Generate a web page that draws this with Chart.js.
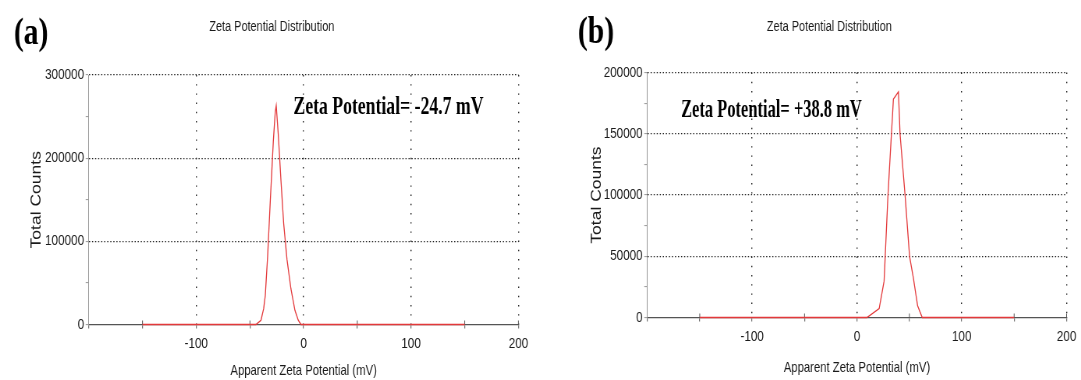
<!DOCTYPE html>
<html>
<head>
<meta charset="utf-8">
<script src="https://cdn.jsdelivr.net/npm/chart.js@4.4.0/dist/chart.umd.min.js"></script>
<style>
  html, body { margin: 0; padding: 0; background: #fff; }
  #wrap { position: relative; width: 1081px; height: 380px; overflow: hidden; background: #fff; }
  .panel { position: absolute; top: 0; height: 380px; transform-origin: 0 0; }
  #panelA { left: 0; width: 692px; transform: scaleX(0.7803); }
  #panelB { left: 540px; width: 694px; transform: scaleX(0.7795); }
</style>
</head>
<body>
<div id="wrap">
  <div class="panel" id="panelA"><canvas id="chartA"></canvas></div>
  <div class="panel" id="panelB"><canvas id="chartB"></canvas></div>
</div>
<script>
// === DATA ===
// (a) sample with negative zeta potential
const potentialA = [-150, -44.4, -39.7, -37.2, -35.7, -33.5, -31.0, -28.2, -26.4, -25.5, -23.6, -21.1, -18.6, -15.5, -11.8, -8.1, -5.0, -2.5, 150];
const countsA    = [0, 0, 5100, 19000, 34800, 82200, 149400, 220500, 256000, 263200, 228500, 173100, 121700, 78300, 42700, 17000, 5100, 0, 0];

// (b) sample with positive zeta potential
const potentialB = [-150, 9.5, 21.2, 25.9, 29.6, 32.9, 34.8, 39.6, 41.1, 45.9, 50.2, 53.8, 57.9, 62.3, 150];
const countsB    = [0, 0, 7300, 29700, 100000, 150000, 178400, 184300, 150000, 100000, 50000, 32400, 9500, 0, 0];

const xRange = [-200, 200];
const xLabelValues = [-100, 0, 100, 200];
const yRangeA = [0, 300000];
const yRangeB = [0, 200000];

const chartTitle = 'Zeta Potential Distribution';
const xTitle = 'Apparent Zeta Potential (mV)';
const yTitle = 'Total Counts';
const zetaA = 'Zeta Potential= -24.7 mV';
const zetaB = 'Zeta Potential= +38.8 mV';

const SANS = "'Liberation Sans', Arial, sans-serif";
const SERIF = "'Liberation Serif', 'Times New Roman', serif";
const colors = {
  line: '#e3393b',
  dots: '#222',
  xAxis: '#555',
  yAxis: '#999',
  text: '#1a1a1a'
};

Chart.defaults.font.family = SANS;
Chart.defaults.color = colors.text;

// texts drawn on the canvas (panel label, title, annotation)
const panelText = {
  id: 'panelText',
  afterDraw(chart, args, opts) {
    const ctx = chart.ctx;
    (opts.items || []).forEach(it => {
      ctx.save();
      ctx.font = it.font;
      ctx.fillStyle = it.color || colors.text;
      ctx.textAlign = it.align || 'left';
      ctx.textBaseline = it.baseline || 'alphabetic';
      if (it.maxWidth) ctx.fillText(it.text, it.x, it.y, it.maxWidth);
      else ctx.fillText(it.text, it.x, it.y);
      ctx.restore();
    });
  }
};

// x ticks cross the axis line (upper half)
const crossTicks = {
  id: 'crossTicks',
  beforeDatasetsDraw(chart) {
    const xs = chart.scales.x;
    const yb = chart.chartArea.bottom;
    const ctx = chart.ctx;
    ctx.save();
    ctx.strokeStyle = colors.xAxis;
    ctx.lineWidth = 1;
    xs.ticks.forEach(t => {
      if (t.value % 100 !== 0 || t.value === xRange[1]) {
        const px = xs.getPixelForValue(t.value);
        ctx.beginPath();
        ctx.moveTo(px, yb);
        ctx.lineTo(px, yb - 4);
        ctx.stroke();
      }
    });
    ctx.restore();
  }
};

function makeChart(canvasId, xs, ys, cfg) {
  const points = xs.map((x, i) => ({ x: x, y: ys[i] }));
  const ctx = document.getElementById(canvasId).getContext('2d');
  return new Chart(ctx, {
    type: 'line',
    data: {
      datasets: [{
        data: points,
        borderColor: colors.line,
        borderWidth: 1.3,
        pointRadius: 0,
        tension: 0,
        fill: false,
        clip: false
      }]
    },
    plugins: [panelText, crossTicks],
    options: {
      responsive: true,
      maintainAspectRatio: false,
      animation: false,
      layout: { padding: cfg.padding },
      plugins: {
        legend: { display: false },
        tooltip: { enabled: false },
        panelText: { items: cfg.texts }
      },
      scales: {
        x: {
          type: 'linear',
          min: xRange[0],
          max: xRange[1],
          afterFit: (scale) => { scale.height = cfg.xHeight; },
          ticks: {
            stepSize: 50,
            autoSkip: false,
            maxRotation: 0,
            padding: 6,
            font: { size: 15 },
            color: colors.text,
            callback: (v) => xLabelValues.includes(v) ? String(v) : ''
          },
          grid: {
            color: (c) => (c.tick && c.tick.value % 100 === 0 && c.tick.value > xRange[0]) ? colors.dots : 'rgba(0,0,0,0)',
            lineWidth: 1.4,
            tickLength: 4,
            tickColor: colors.xAxis,
            tickWidth: 1
          },
          border: { display: true, color: colors.xAxis, width: 1.3, dash: [1.4, 7.8] },
          title: {
            display: true,
            text: xTitle,
            font: { size: 14.5 },
            color: colors.text,
            padding: { top: 0, bottom: cfg.xTitlePad }
          }
        },
        y: {
          min: cfg.yRange[0],
          max: cfg.yRange[1],
          afterFit: (scale) => { scale.width = cfg.yWidth; },
          ticks: {
            stepSize: cfg.yStep,
            autoSkip: false,
            padding: 2,
            font: { size: 15 },
            color: colors.text,
            callback: (v) => v % cfg.yLabelStep === 0 ? String(v) : ''
          },
          grid: {
            color: (c) => (c.tick && c.tick.value % cfg.yLabelStep === 0 && c.tick.value > 0) ? colors.dots : 'rgba(0,0,0,0)',
            lineWidth: 1.2,
            tickLength: 4,
            tickColor: colors.yAxis,
            tickWidth: 1
          },
          border: { display: true, color: colors.yAxis, width: 1, dash: [1.5, 2.4] },
          title: {
            display: true,
            text: yTitle,
            font: { size: 17.5 },
            color: colors.text,
            padding: { top: 0, bottom: 0 }
          }
        }
      }
    }
  });
}

// === PANEL (a) ===
makeChart('chartA', potentialA, countsA, {
  padding: { left: 36.9, right: 27.6, top: 75, bottom: 0 },
  yWidth: 76.9,
  xHeight: 55.5,
  xTitlePad: 0,
  yRange: yRangeA,
  yStep: 50000,
  yLabelStep: 100000,
  texts: [
    { text: '(a)', x: 17.7, y: 34, font: `bold 38px ${SERIF}`, baseline: 'middle', color: '#000' },
    { text: chartTitle, x: 348.3, y: 27, font: `14px ${SANS}`, align: 'center', baseline: 'middle' },
    { text: zetaA, x: 376, y: 113.5, font: `bold 25px ${SERIF}`, maxWidth: 243.6, color: '#000' }
  ]
});

// === PANEL (b) ===
makeChart('chartB', potentialB, countsB, {
  padding: { left: 62.5, right: 16.3, top: 72.6, bottom: 0 },
  yWidth: 75.2,
  xHeight: 62.5,
  xTitlePad: 3.3,
  yRange: yRangeB,
  yStep: 25000,
  yLabelStep: 50000,
  texts: [
    { text: '(b)', x: 48.6, y: 33, font: `bold 38px ${SERIF}`, baseline: 'middle', color: '#000' },
    { text: chartTitle, x: 371.2, y: 27, font: `14px ${SANS}`, align: 'center', baseline: 'middle' },
    { text: zetaB, x: 181, y: 116.5, font: `bold 25px ${SERIF}`, maxWidth: 231.8, color: '#000' }
  ]
});
</script>
</body>
</html>
